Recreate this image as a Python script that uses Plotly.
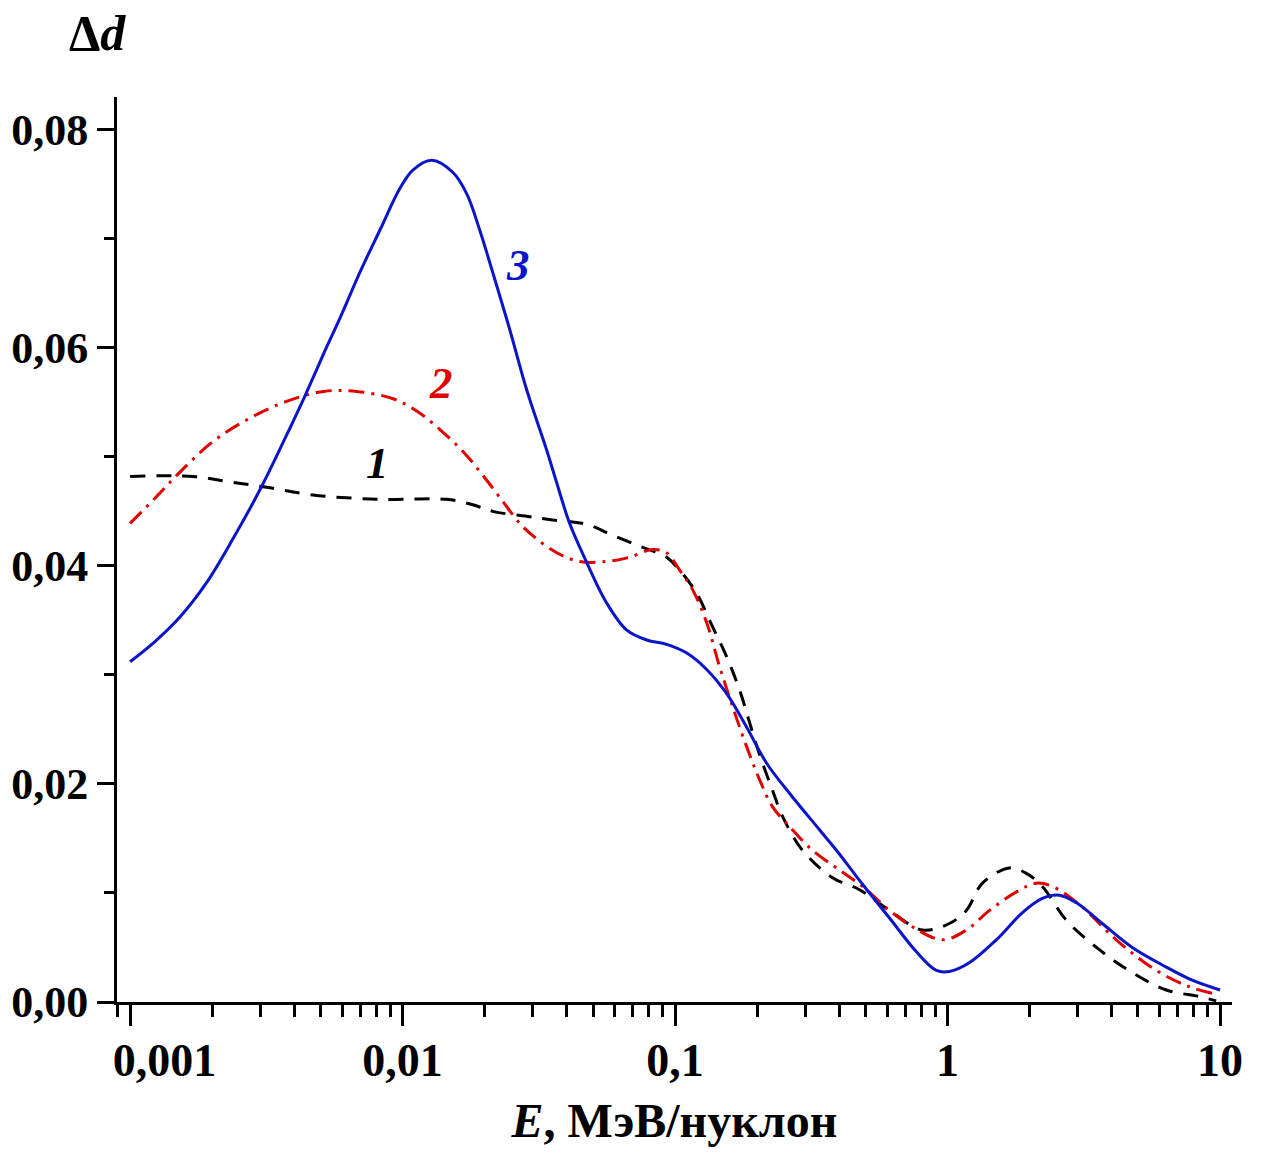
import numpy as np
import plotly.graph_objects as go

# Curve 1 (black, dashed)
e1 = [0.001, 0.001702, 0.002328, 0.003177, 0.004688, 0.00826, 0.01452, 0.01811,
      0.02143, 0.02931, 0.03556, 0.04742, 0.05902, 0.07603, 0.09311, 0.104,
      0.1199, 0.1374, 0.1545, 0.1726, 0.1879, 0.2042, 0.228, 0.2483, 0.2938,
      0.3784, 0.4753, 0.6281, 0.8091, 1.016, 1.172, 1.343, 1.687, 1.945, 2.228,
      2.729, 3.606, 4.764, 6.353, 8.395, 9.683]
d1 = [0.0482, 0.0482, 0.0477, 0.0472, 0.0465, 0.0461, 0.0461, 0.0456,
      0.0450, 0.0445, 0.0442, 0.0438, 0.0428, 0.0417, 0.0408, 0.0396,
      0.0375, 0.0344, 0.0317, 0.0286, 0.0256, 0.0227, 0.0194, 0.0170, 0.0139,
      0.0114, 0.0103, 0.0082, 0.0066, 0.0072, 0.0084, 0.0109, 0.0123, 0.0118, 0.0106,
      0.0075, 0.0048, 0.0027, 0.0011, 0.0005, 0.0001]

# Curve 2 (red, dash-dot)
e2 = [0.001, 0.001256, 0.001524, 0.002014, 0.002685, 0.003673, 0.00514, 0.006792,
      0.00929, 0.01127, 0.01371, 0.01679, 0.01986, 0.0235, 0.02692, 0.03027,
      0.03681, 0.04467, 0.0561, 0.06823, 0.08279, 0.09311, 0.104, 0.1161,
      0.1306, 0.1459, 0.1626, 0.1832, 0.2042, 0.228, 0.263, 0.3199, 0.4018,
      0.4875, 0.6124, 0.743, 0.9572, 1.172, 1.426, 1.791, 2.118, 2.427, 3.126,
      4.159, 5.834, 7.709, 9.354]
d2 = [0.0439, 0.0464, 0.0486, 0.0514, 0.0534, 0.0550, 0.0560, 0.0560,
      0.0553, 0.0542, 0.0525, 0.0504, 0.0482, 0.0458, 0.0439, 0.0427,
      0.0412, 0.0404, 0.0404, 0.0408, 0.0415, 0.0412, 0.0396, 0.0378,
      0.0348, 0.0307, 0.0271, 0.0234, 0.0204, 0.0179, 0.0161, 0.0139, 0.0121,
      0.0106, 0.0084, 0.0069, 0.0057, 0.0066, 0.0084, 0.0101, 0.0109, 0.0106, 0.0087,
      0.0057, 0.0029, 0.0014, 0.0008]

# Curve 3 (blue, solid)
e3 = [0.001, 0.00124, 0.001524, 0.001914, 0.002388, 0.002999, 0.003673, 0.004385, 0.005272,
      0.005888, 0.006966, 0.00826, 0.009772, 0.01091, 0.01279, 0.01528, 0.01722,
      0.01919, 0.02143, 0.02472, 0.02858, 0.03381, 0.03681, 0.04102, 0.04742,
      0.0561, 0.06653, 0.0787, 0.09311, 0.1104, 0.1306, 0.1545, 0.1832, 0.2168,
      0.2698, 0.3388, 0.3917, 0.4875, 0.6124, 0.7691, 0.9099, 1.016, 1.202, 1.51,
      1.884, 2.228, 2.57, 2.972, 3.698, 4.764, 6.353, 7.907, 10.0]
d3 = [0.0312, 0.0331, 0.0353, 0.0385, 0.0425, 0.0470, 0.0515, 0.0556, 0.0601,
      0.0627, 0.0669, 0.0708, 0.0746, 0.0763, 0.0772, 0.0761, 0.0741,
      0.0708, 0.0669, 0.0617, 0.0561, 0.0506, 0.0476, 0.0439, 0.0403,
      0.0366, 0.0341, 0.0332, 0.0328, 0.0320, 0.0305, 0.0283, 0.0252, 0.0219,
      0.0188, 0.0158, 0.0139, 0.0108, 0.0077, 0.0046, 0.0029, 0.0028, 0.0036, 0.0057,
      0.0082, 0.0095, 0.0098, 0.0091, 0.0072, 0.0050, 0.0032, 0.0020, 0.0011]

# Curve labels: (text, E, Δd, colour)
curve_labels = [("1", 0.0081, 0.0494, "#000000"),
                ("2", 0.0138, 0.0568, "#e00000"),
                ("3", 0.0265, 0.0676, "#0a14c8")]

x_tick_vals = [0.001, 0.01, 0.1, 1, 10]
x_tick_text = ["\u00a0" * 6 + "0,001", "0,01", "0,1", "1", "10"]
x_minor_vals = [m * 10.0 ** k for k in range(-4, 1) for m in range(2, 10)
                if 0.0009 <= m * 10.0 ** k <= 10] + [0.0009]
y_tick_vals = [0.0, 0.02, 0.04, 0.06, 0.08]
y_minor_vals = [0.01, 0.03, 0.05, 0.07]

FONT = "Liberation Serif"
W, H = 1262, 1155
ML, MR, MT, MB = 117, 30, 97, 153

fig = go.Figure()
fig.add_trace(go.Scatter(x=e1, y=d1, mode="lines",
                         line=dict(color="#000000", width=3, dash="15px,11px",
                                   shape="spline", smoothing=1.0)))
fig.add_trace(go.Scatter(x=e2, y=d2, mode="lines",
                         line=dict(color="#e00000", width=3, dash="16px,7px,3px,7px",
                                   shape="spline", smoothing=1.0)))
fig.add_trace(go.Scatter(x=e3, y=d3, mode="lines",
                         line=dict(color="#0a14c8", width=3,
                                   shape="spline", smoothing=1.0)))

for txt, ex, dy, col in curve_labels:
    fig.add_annotation(x=np.log10(ex), y=dy, xref="x", yref="y",
                       text=f"<i>{txt}</i>", showarrow=False,
                       font=dict(family=FONT, size=45, color=col, weight="bold"))

# Axis symbol above the value axis
fig.add_annotation(xref="paper", yref="paper",
                   x=(97 - ML) / (W - ML - MR),
                   y=1 + (MT - 33) / (H - MT - MB),
                   xanchor="center", yanchor="middle",
                   text="Δ<i>d</i>", showarrow=False,
                   font=dict(family=FONT, size=50, color="#000000", weight="bold"))

fig.update_layout(
    width=W, height=H,
    margin=dict(l=ML, r=MR, t=MT, b=MB, autoexpand=False),
    paper_bgcolor="white", plot_bgcolor="white",
    showlegend=False,
    separators=", ",
    font=dict(family=FONT, color="#000000"),
)

fig.update_xaxes(
    type="log", range=[-3.048, 1.044], automargin=False,
    tickmode="array", tickvals=x_tick_vals, ticktext=x_tick_text,
    ticks="outside", ticklen=21, tickwidth=3, tickcolor="#000000",
    minor=dict(tickmode="array", tickvals=x_minor_vals, ticks="outside",
               ticklen=12, tickwidth=3, tickcolor="#000000", showgrid=False),
    showline=True, linewidth=3, linecolor="#000000",
    showgrid=False, zeroline=False,
    tickfont=dict(family=FONT, size=46, color="#000000", weight="bold"),
    ticklabelstandoff=-5,
    title=dict(text="<i>E</i>, МэВ/нуклон",
               font=dict(family=FONT, size=48, color="#000000", weight="bold"),
               standoff=19),
)

fig.update_yaxes(
    range=[0, 0.083], automargin=False,
    tickmode="array", tickvals=y_tick_vals, tickformat=".2f",
    ticks="outside", ticklen=17, tickwidth=3, tickcolor="#000000",
    minor=dict(tickmode="array", tickvals=y_minor_vals, ticks="outside",
               ticklen=10, tickwidth=3, tickcolor="#000000", showgrid=False),
    showline=True, linewidth=3, linecolor="#000000",
    showgrid=False, zeroline=False,
    tickfont=dict(family=FONT, size=44, color="#000000", weight="bold"),
    ticklabelstandoff=0,
)

fig.write_html("out.html")
